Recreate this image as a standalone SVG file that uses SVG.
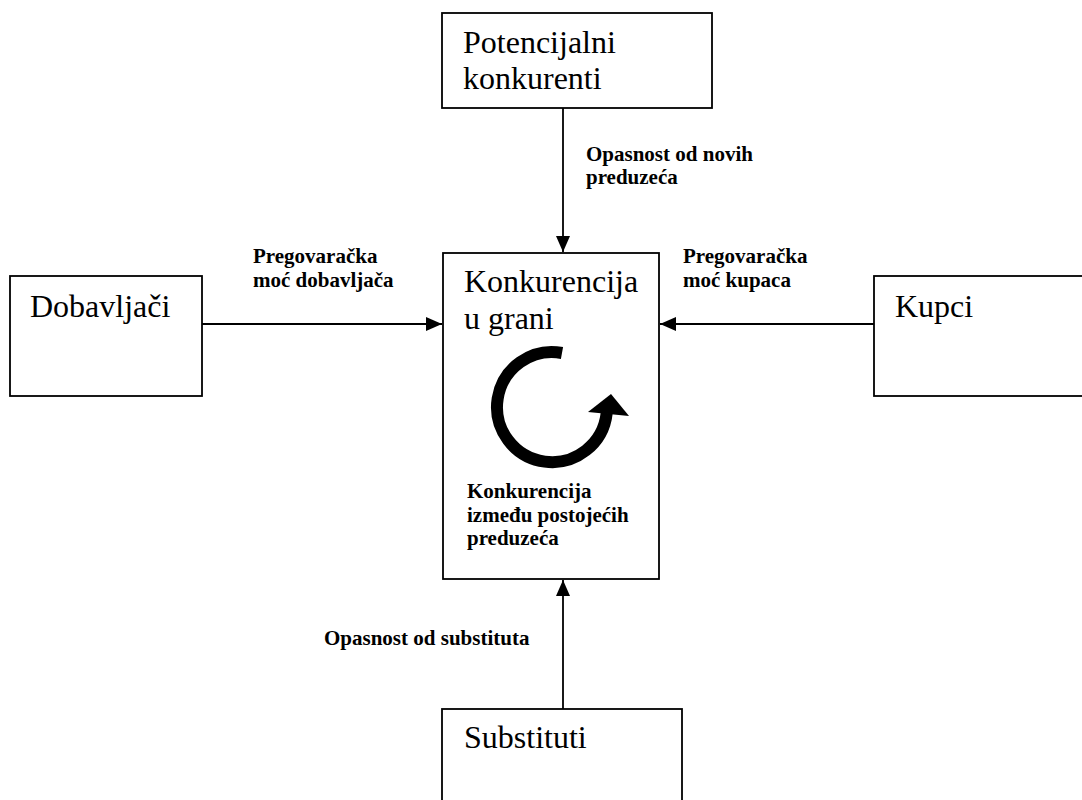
<svg xmlns="http://www.w3.org/2000/svg" width="1082" height="800" viewBox="0 0 1082 800">
  <style>
    .box { fill: #ffffff; stroke: #000000; stroke-width: 1.8; }
    .title { font-family: "Liberation Serif", "Times New Roman", serif; font-size: 32px; fill: #000000; }
    .label { font-family: "Liberation Serif", "Times New Roman", serif; font-size: 21px; font-weight: bold; fill: #000000; }
    .link { stroke: #000000; stroke-width: 1.8; fill: none; }
  </style>
  <defs>
    <marker id="arrow" viewBox="0 0 16 14" refX="16" refY="7" markerWidth="16" markerHeight="14" markerUnits="userSpaceOnUse" orient="auto">
      <path d="M0,0 L16,7 L0,14 Z" fill="#000000"/>
    </marker>
  </defs>

  <rect width="1082" height="800" fill="#ffffff"/>

  <!-- connectors -->
  <g id="connectors">
    <line class="link" x1="563" y1="108" x2="563" y2="252" marker-end="url(#arrow)"/>
    <line class="link" x1="202" y1="324" x2="442" y2="324" marker-end="url(#arrow)"/>
    <line class="link" x1="874" y1="324" x2="660" y2="324" marker-end="url(#arrow)"/>
    <line class="link" x1="563" y1="709" x2="563" y2="580" marker-end="url(#arrow)"/>
    <text class="label" x="586" y="161">Opasnost od novih</text>
    <text class="label" x="586" y="184">preduzeća</text>
    <text class="label" x="253" y="263">Pregovaračka</text>
    <text class="label" x="253" y="287">moć dobavljača</text>
    <text class="label" x="683" y="263">Pregovaračka</text>
    <text class="label" x="683" y="287">moć kupaca</text>
    <text class="label" x="324" y="645">Opasnost od substituta</text>
  </g>

  <!-- potential entrants -->
  <g id="potencijalni">
    <rect class="box" x="442" y="13" width="270" height="95"/>
    <text class="title" x="463" y="53">Potencijalni</text>
    <text class="title" x="463" y="89">konkurenti</text>
  </g>

  <!-- suppliers -->
  <g id="dobavljaci">
    <rect class="box" x="10" y="276" width="192" height="120"/>
    <text class="title" x="30" y="317">Dobavljači</text>
  </g>

  <!-- buyers -->
  <g id="kupci">
    <rect class="box" x="874" y="276" width="220" height="120"/>
    <text class="title" x="895" y="317">Kupci</text>
  </g>

  <!-- industry rivalry -->
  <g id="konkurencija">
    <rect class="box" x="443" y="253" width="216" height="326"/>
    <text class="title" x="464" y="292">Konkurencija</text>
    <text class="title" x="464" y="329">u grani</text>
    <path d="M562,353 A55,55 0 1 0 606.7,413" fill="none" stroke="#000000" stroke-width="12"/>
    <path d="M588,412 L629,416 L611,394 Z" fill="#000000"/>
    <text class="label" x="467" y="498">Konkurencija</text>
    <text class="label" x="467" y="522">između postojećih</text>
    <text class="label" x="467" y="545">preduzeća</text>
  </g>

  <!-- substitutes -->
  <g id="substituti">
    <rect class="box" x="442" y="709" width="240" height="110"/>
    <text class="title" x="464" y="748">Substituti</text>
  </g>
</svg>
